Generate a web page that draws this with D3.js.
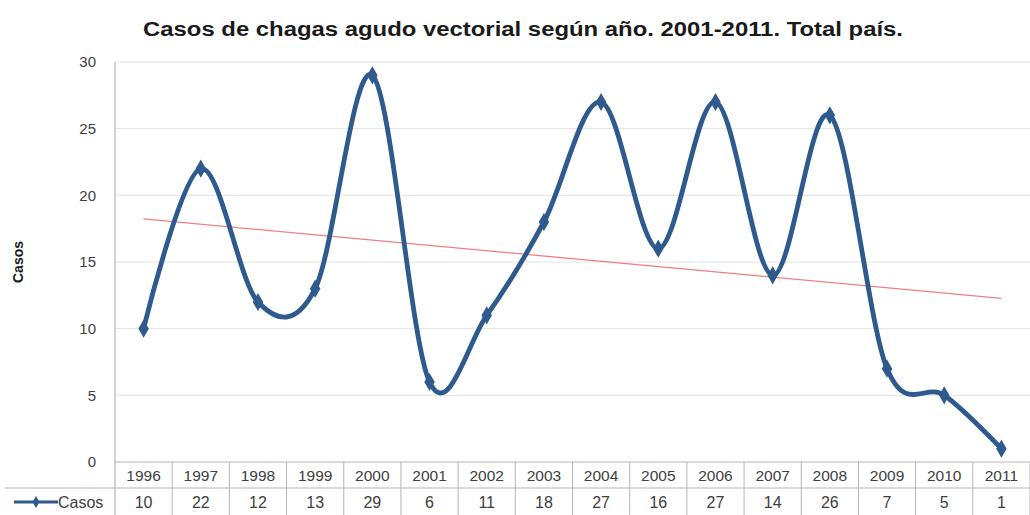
<!DOCTYPE html>
<html><head><meta charset="utf-8">
<script src="https://cdnjs.cloudflare.com/ajax/libs/d3/7.8.5/d3.min.js"></script>
<style>body{margin:0;background:#fff}svg{display:block}</style>
</head><body>
<svg id="c" width="1030" height="515"></svg>
<script>
const years = ["1996","1997","1998","1999","2000","2001","2002","2003","2004","2005","2006","2007","2008","2009","2010","2011"];
const casos = [10,22,12,13,29,6,11,18,27,16,27,14,26,7,5,1];
const yTicks = [0,5,10,15,20,25,30];
const title = "Casos de chagas agudo vectorial según año. 2001-2011. Total país.";
const seriesName = "Casos";
const yLabel = "Casos";

(function () {
const svg = d3.select("#c");
const pL = 115, pR = 1030, pT = 62, pB = 462;
const font = "'Liberation Sans', Arial, sans-serif";

const x = d3.scaleBand().domain(years).range([pL, pR]);
const y = d3.scaleLinear().domain([0, 30]).range([pB, pT]);
const cx = d => x(d) + x.bandwidth() / 2;

// gridlines
svg.append("g").selectAll("line").data(yTicks.filter(t => t > 0)).join("line")
  .attr("x1", pL).attr("x2", pR).attr("y1", d => y(d)).attr("y2", d => y(d))
  .attr("stroke", "#e3e3e3").attr("stroke-width", 1);

// y axis
const ya = svg.append("g").attr("transform", `translate(${pL},0)`)
  .call(d3.axisLeft(y).tickValues(yTicks).tickSize(0).tickPadding(19));
ya.select(".domain").remove();
ya.selectAll("text").attr("font-family", font).attr("font-size", 15).attr("fill", "#404040");

// axis line
svg.append("line").attr("x1", pL).attr("x2", pL).attr("y1", pT).attr("y2", 515)
  .attr("stroke", "#a6a6a6");

// data table
const tbl = svg.append("g");
tbl.append("line").attr("x1", pL).attr("x2", pR).attr("y1", pB).attr("y2", pB).attr("stroke", "#b5b5b5");
tbl.append("line").attr("x1", 5).attr("x2", pR).attr("y1", 488).attr("y2", 488).attr("stroke", "#b5b5b5");
tbl.selectAll("line.v").data(years).join("line").attr("class", "v")
  .attr("x1", d => x(d) + x.bandwidth()).attr("x2", d => x(d) + x.bandwidth())
  .attr("y1", pB).attr("y2", 515).attr("stroke", "#b5b5b5");
tbl.selectAll("text.yr").data(years).join("text").attr("class", "yr")
  .attr("x", d => cx(d)).attr("y", 481).attr("text-anchor", "middle")
  .attr("font-family", font).attr("font-size", 15.5).attr("fill", "#404040").text(d => d);
tbl.selectAll("text.val").data(years).join("text").attr("class", "val")
  .attr("x", d => cx(d)).attr("y", 508).attr("text-anchor", "middle")
  .attr("font-family", font).attr("font-size", 16).attr("fill", "#404040")
  .text((d, i) => casos[i]);

// legend key in table
const lineColor = "#2e5a8e";
tbl.append("line").attr("x1", 14).attr("x2", 58).attr("y1", 502).attr("y2", 502)
  .attr("stroke", lineColor).attr("stroke-width", 3);
tbl.append("path").attr("d", d3.symbol(d3.symbolDiamond, 40)())
  .attr("transform", "translate(36,502)").attr("fill", lineColor);
tbl.append("text").attr("x", 58).attr("y", 508).attr("font-family", font)
  .attr("font-size", 16).attr("fill", "#404040").text(seriesName);

// trend line (least squares from data)
const n = casos.length;
const xm = d3.mean(d3.range(n)), ym = d3.mean(casos);
const slope = d3.sum(d3.range(n), i => (i - xm) * (casos[i] - ym)) / d3.sum(d3.range(n), i => (i - xm) ** 2);
const icpt = ym - slope * xm;
svg.append("line")
  .attr("x1", cx(years[0])).attr("y1", y(icpt))
  .attr("x2", cx(years[n - 1])).attr("y2", y(icpt + slope * (n - 1)))
  .attr("stroke", "#f08080").attr("stroke-width", 1.3);

// series line
const line = d3.line().x((d, i) => cx(years[i])).y(d => y(d)).curve(d3.curveCardinal.tension(0));
svg.append("path").datum(casos).attr("d", line).attr("fill", "none")
  .attr("stroke", lineColor).attr("stroke-width", 4.8).attr("stroke-linejoin", "round");
svg.append("g").selectAll("path").data(casos).join("path")
  .attr("d", d3.symbol(d3.symbolDiamond, 95)())
  .attr("transform", (d, i) => `translate(${cx(years[i])},${y(d)})`)
  .attr("fill", lineColor);

// title
svg.append("text").attr("x", 523).attr("y", 36).attr("text-anchor", "middle")
  .attr("font-family", font).attr("font-weight", "bold").attr("font-size", 20)
  .attr("fill", "#1a1a1a").attr("textLength", 760).attr("lengthAdjust", "spacingAndGlyphs").text(title);

// y label
svg.append("text").attr("transform", "translate(23,262) rotate(-90)").attr("text-anchor", "middle")
  .attr("font-family", font).attr("font-weight", "bold").attr("font-size", 14)
  .attr("fill", "#1a1a1a").text(yLabel);
})();
</script>
</body></html>
